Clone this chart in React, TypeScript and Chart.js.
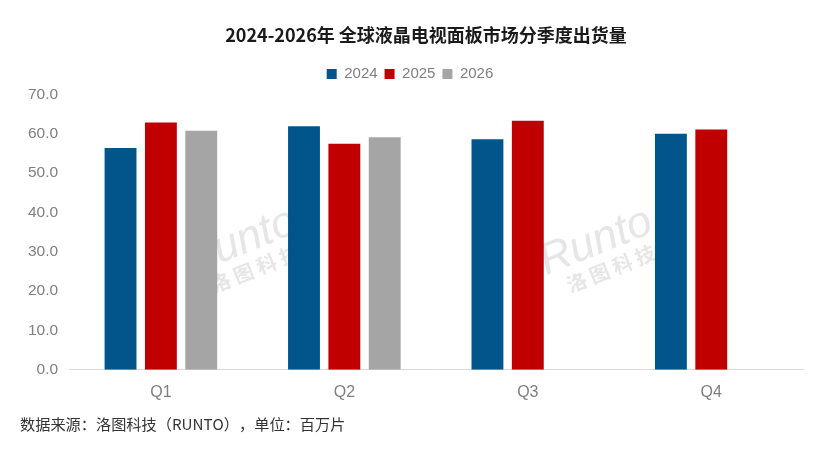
import { useEffect, useRef } from "react"
import { Chart, registerables } from "chart.js"

Chart.register(...registerables)

const quarters = ["Q1", "Q2", "Q3", "Q4"]
const years = ["2024", "2025", "2026"]
const values2024 = [56.4, 61.9, 58.6, 60.0]
const values2025 = [62.9, 57.5, 63.3, 61.1]
const values2026 = [60.8, 59.1, null, null]
const yTicks = [0, 10, 20, 30, 40, 50, 60, 70]

const titleText = "2024-2026年 全球液晶电视面板市场分季度出货量"
const sourceText = "数据来源：洛图科技（RUNTO），单位：百万片"
const colors = ["#02558B", "#C00000", "#A5A5A5"]

const FONT = "'Liberation Sans', Arial, sans-serif"
const CJK = "'Noto Sans CJK SC', sans-serif"

// extra room under the legend, so the label padding can stay tight
const legendGap = {
  id: "legendGap",
  beforeInit(chart: any) {
    const fit = chart.legend.fit
    chart.legend.fit = function () {
      fit.call(this)
      this.height += 3
    }
  },
}

// title, source note and a faint watermark
const extras = {
  id: "extras",
  beforeDatasetsDraw(chart: Chart) {
    const { ctx, chartArea } = chart
    const w = chartArea.right - chartArea.left
    const h = chartArea.bottom - chartArea.top
    for (const fx of [0.235, 0.72]) {
      ctx.save()
      ctx.translate(chartArea.left + w * fx, chartArea.top + h * 0.55)
      ctx.rotate(-0.38)
      ctx.fillStyle = "rgba(205,205,205,0.5)"
      ctx.textAlign = "center"
      ctx.font = "italic 44px " + FONT
      ctx.fillText("Runto", 0, -4)
      ctx.font = "bold 20px " + CJK
      ctx.fillText("洛 图 科 技", 4, 26)
      ctx.restore()
    }
  },
  afterDraw(chart: Chart) {
    const { ctx } = chart
    ctx.save()
    ctx.textBaseline = "middle"
    ctx.textAlign = "center"
    ctx.fillStyle = "#1a1a1a"
    ctx.font = "bold 18px " + CJK
    ctx.fillText(titleText, 426, 35)
    // char by char so full-width punctuation keeps its full width
    ctx.textAlign = "left"
    ctx.font = "15.2px " + CJK
    ctx.fillStyle = "#333333"
    let x = 20
    for (const ch of sourceText) {
      ctx.fillText(ch, x, 424)
      x += ctx.measureText(ch).width
    }
    ctx.restore()
  },
}

export default function App() {
  const chartRef = useRef<HTMLCanvasElement>(null)
  const chartInstance = useRef<Chart | null>(null)

  useEffect(() => {
    document.body.style.margin = "0"
    if (!chartRef.current) return
    if (chartInstance.current) chartInstance.current.destroy()
    const ctx = chartRef.current.getContext("2d")
    if (!ctx) return

    const series = [values2024, values2025, values2026]

    chartInstance.current = new Chart(ctx, {
      type: "bar",
      data: {
        labels: quarters,
        datasets: years.map((y, i) => ({
          label: y,
          data: series[i],
          backgroundColor: colors[i],
          borderWidth: 0,
          barPercentage: 0.79,
          categoryPercentage: 0.66,
        })),
      },
      options: {
        animation: false,
        responsive: false,
        layout: { padding: { left: 17, right: 27, top: 59.5, bottom: 37 } },
        scales: {
          x: {
            grid: { display: false, drawTicks: false },
            border: { display: true, color: "#D9D9D9", width: 1 },
            ticks: { color: "#7F7F7F", font: { family: FONT, size: 16 }, padding: 13 },
          },
          y: {
            min: 0,
            max: 70,
            afterBuildTicks: (axis) => {
              axis.ticks = yTicks.map((v) => ({ value: v }))
            },
            grid: { display: false, drawTicks: false },
            border: { display: false },
            ticks: {
              color: "#7F7F7F",
              font: { family: FONT, size: 15.5 },
              padding: 11,
              callback: (v) => Number(v).toFixed(1),
            },
          },
        },
        plugins: {
          title: { display: false },
          legend: {
            position: "top",
            labels: {
              boxWidth: 10,
              boxHeight: 10,
              color: "#7F7F7F",
              font: { family: FONT, size: 15 },
              padding: 7,
            },
          },
          tooltip: { enabled: false },
        },
      },
      plugins: [legendGap, extras],
    })

    return () => {
      if (chartInstance.current) {
        chartInstance.current.destroy()
        chartInstance.current = null
      }
    }
  }, [])

  return <canvas ref={chartRef} width={830} height={452} style={{ display: "block" }} />
}
